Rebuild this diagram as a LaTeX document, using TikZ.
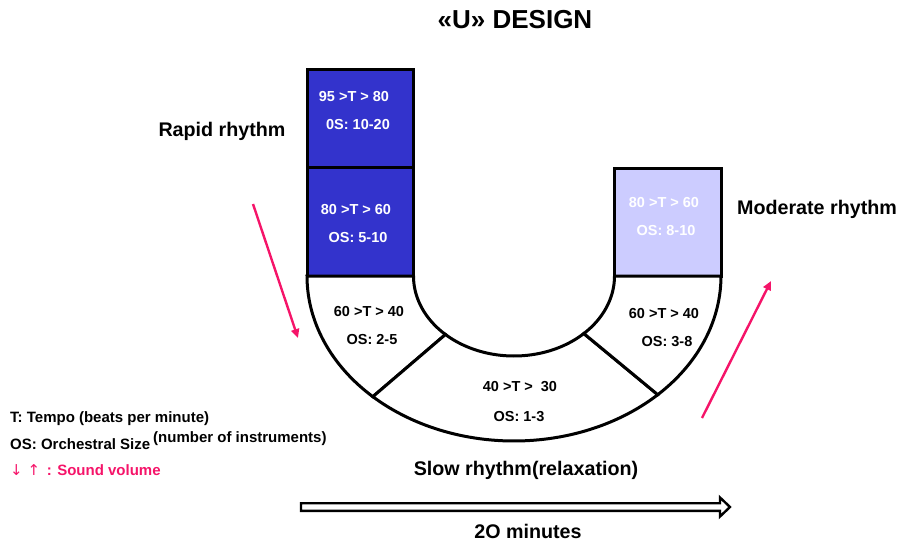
\documentclass[tikz,border=0pt]{standalone}
\usepackage{fontspec}
\setmainfont{Liberation Sans}
\newfontfamily\arrowfont{DejaVu Sans}
\usetikzlibrary{arrows.meta}
\definecolor{deepblue}{RGB}{51,51,204}
\definecolor{paleblue}{RGB}{204,204,255}
\definecolor{volpink}{RGB}{245,20,105}
\newcommand{\fs}[1]{\bfseries\fontsize{#1}{#1}\selectfont}
\begin{document}
\begin{tikzpicture}[x=1pt,y=-1pt,
  outline/.style={draw=black,line width=3pt,line join=miter},
  boxtext/.style={font=\fs{14.5},inner sep=0pt},
  bigtext/.style={font=\fs{19.7},inner sep=0pt},
  legend/.style={font=\fs{15},inner sep=0pt,anchor=base west},
  volarrow/.style={draw=volpink,line width=2.4pt,-{Triangle[length=9pt,width=8pt]}},
]
\useasboundingbox (0,0) rectangle (898,541);

% geometry of the U
\def\cx{514}\def\cy{276}
\def\rxo{207}\def\ryo{165}
\def\rxi{100.5}\def\ryi{80}

% left column
\filldraw[outline,fill=deepblue] (307,69) rectangle (413,167);
\filldraw[outline,fill=deepblue] (307,167) rectangle (413,\cy);
% right column
\filldraw[outline,fill=paleblue] (614,168) rectangle (721,\cy);

% ring segments
\filldraw[outline,fill=white]
  plot[domain=180:133,samples=40] ({\cx+\rxo*cos(\x)},{\cy+\ryo*sin(\x)})
  -- plot[domain=133:180,samples=40] ({\cx+\rxi*cos(\x)},{\cy+\ryi*sin(\x)}) -- cycle;
\filldraw[outline,fill=white]
  plot[domain=133:46,samples=60] ({\cx+\rxo*cos(\x)},{\cy+\ryo*sin(\x)})
  -- plot[domain=46:133,samples=60] ({\cx+\rxi*cos(\x)},{\cy+\ryi*sin(\x)}) -- cycle;
\filldraw[outline,fill=white]
  plot[domain=46:0,samples=40] ({\cx+\rxo*cos(\x)},{\cy+\ryo*sin(\x)})
  -- plot[domain=0:46,samples=40] ({\cx+\rxi*cos(\x)},{\cy+\ryi*sin(\x)}) -- cycle;

% segment labels
\node[boxtext,text=white] (t1a) at (354,97) {95 >T > 80};
\node[boxtext,text=white] (t1b) at (358,125) {0S: 10-20};
\node[boxtext,text=white] (t2a) at (356,210) {80 >T > 60};
\node[boxtext,text=white] (t2b) at (358,238) {OS: 5-10};
\node[boxtext] (t3a) at (369,312) {60 >T > 40};
\node[boxtext] (t3b) at (372,340) {OS: 2-5};
\node[boxtext] (t4a) at (520,387) {40 >T >\hspace{4pt} 30};
\node[boxtext] (t4b) at (519,417) {OS: 1-3};
\node[boxtext] (t5a) at (664,314) {60 >T > 40};
\node[boxtext] (t5b) at (667,342) {OS: 3-8};
\node[boxtext,text=white] (t6a) at (664,203) {80 >T > 60};
\node[boxtext,text=white] (t6b) at (666,231) {OS: 8-10};

% titles
\node[font=\fs{26},inner sep=0pt] (title) at (515,20) {«U» DESIGN};
\node[bigtext] (rapid) at (222,131) {Rapid rhythm};
\node[bigtext] (moderate) at (817,209) {Moderate rhythm};
\node[bigtext] (slow) at (526,470) {Slow rhythm(relaxation)};
\node[bigtext] (minutes) at (528,531) {2O minutes};

% volume arrows
\coordinate (dn0) at (253,204);
\coordinate (dn1) at (298,338);
\coordinate (up0) at (702,418);
\coordinate (up1) at (771,281);
\draw[volarrow] (dn0) -- (dn1);
\draw[volarrow] (up0) -- (up1);

% time arrow (hollow)
\filldraw[draw=black,fill=white,line width=2.4pt,line join=miter]
  (301,503.2) -- (720,503.2) -- (720,497.5) -- (730,507) -- (720,516.5) -- (720,510.8) -- (301,510.8) -- cycle;

% legend
\node[legend] (lt) at (10,422) {T: Tempo (beats per minute)};
\node[legend] (los) at (10,449) {OS: Orchestral Size};
\node[legend] (lnum) at (153,442) {(number of instruments)};
\node[legend,text=volpink] (lvol) at (10,475) {{\arrowfont\mdseries ↓ ↑} \,: Sound volume};
\end{tikzpicture}
\end{document}
